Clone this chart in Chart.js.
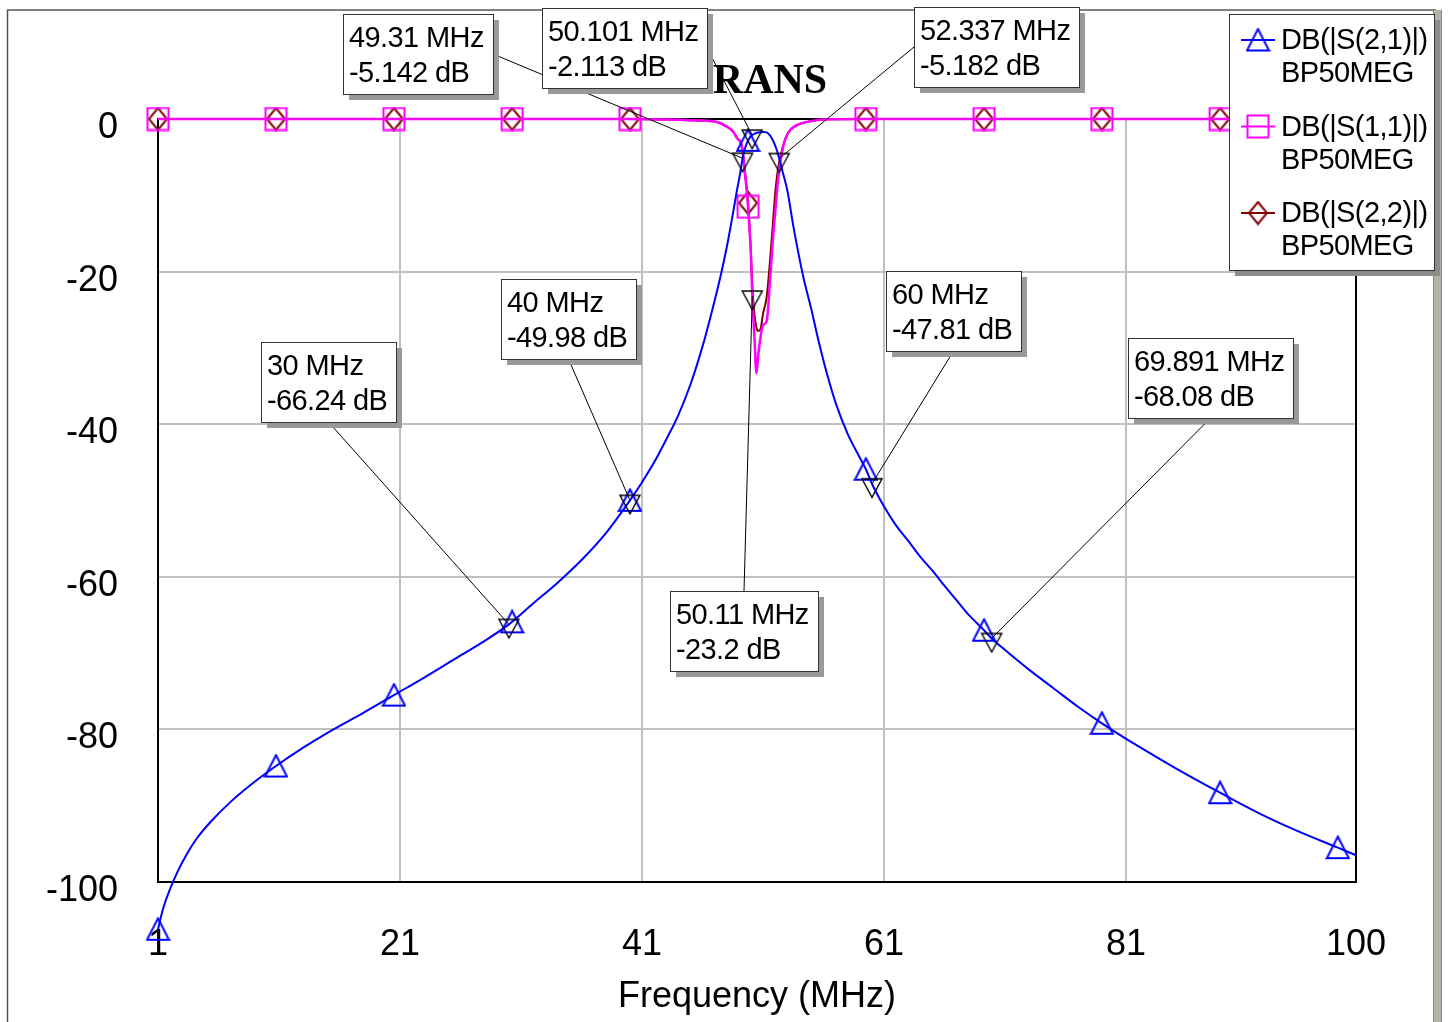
<!DOCTYPE html>
<html>
<head>
<meta charset="utf-8">
<title>TRANS</title>
<script src="https://cdn.jsdelivr.net/npm/chart.js@4/dist/chart.umd.min.js"></script>
<style>
  html, body { margin: 0; padding: 0; background: #fff; }
  #wrap { position: relative; width: 1450px; height: 1022px; }
  canvas { display: block; }
</style>
</head>
<body>
<div id="wrap"><canvas id="c" width="1450" height="1022"></canvas></div>
<script>
// ---- Sweep results: frequency in MHz, magnitude in dB ----
const s21Freq = [1, 1.4, 2, 2.6, 3.4, 4.2, 5.3, 7, 8.8, 10.75, 13, 15.5, 18, 20.5, 23, 25.5, 28, 30, 30.26, 32,
  34, 36, 38, 40, 41, 42, 43, 44, 45, 46, 46.6, 47, 47.5, 48, 48.5, 48.85, 49.1, 49.31, 49.5, 49.76,
  50.101, 50.5, 51, 51.3, 51.6, 51.8, 52.1, 52.337, 52.6, 53, 53.5, 54.3, 55, 55.5, 56.3, 57, 58, 59, 59.5, 60,
  61, 62, 63, 64, 65, 66, 67, 68, 69.26, 69.891, 71, 73, 75, 77, 79, 82, 85, 88.77, 92, 95, 98.5, 100];
const s21Db = [-106.2, -103.6, -100.9, -98.7, -96.3, -94.3, -92.2, -89.5, -87.1, -84.8, -82.4, -80, -77.8, -75.5, -73.2, -70.8, -68.4, -66.24, -65.9, -63.5,
  -60.8, -57.8, -54.3, -49.98, -47.6, -45, -42, -38.8, -34.8, -29.8, -26.3, -23.8, -20.5, -16.8, -12.5, -9.3, -7.2, -5.142, -3.9, -2.8,
  -2.113, -1.8, -1.7, -1.75, -2.2, -2.75, -3.9, -5.182, -6.8, -9.3, -14, -20.5, -25, -28.5, -33.5, -37.2, -41.3, -44.4, -45.9, -47.81,
  -50.8, -53.3, -55.3, -57.4, -59.2, -61.2, -63.1, -65, -67, -68.08, -69.6, -72.2, -74.6, -77, -79.2, -82.2, -85, -88.3, -91, -93.2, -95.5, -96.5];

// S(1,1) and S(2,2) share one frequency grid
const reflFreq = [1, 10.75, 20.5, 30.26, 40, 44, 46, 47.2, 48, 48.5, 48.85, 49.26, 49.5, 49.76, 50, 50.11, 50.3, 50.45, 50.6, 50.8,
  51, 51.3, 51.58, 51.8, 52, 52.24, 52.65, 53.07, 53.8, 54.9, 56, 59.5, 69.26, 79, 88.77, 98.5, 100];
const s11Db = [0, 0, 0, 0, 0, -0.1, -0.2, -0.4, -1.0, -1.6, -2.5, -3.7, -7.1, -11.5, -18, -23.2, -29, -33.3, -31, -28.5,
  -27, -26.5, -21, -16, -12.3, -8, -3.7, -1.8, -0.8, -0.3, -0.05, 0, 0, 0, 0, 0, 0];
const s22Db = [0, 0, 0, 0, 0, -0.1, -0.2, -0.4, -1.0, -1.6, -2.5, -3.6, -6.8, -11, -17.5, -21.8, -25.8, -27.3, -27.8, -27.5,
  -25.5, -23.3, -18.5, -14, -9.8, -6.5, -3.5, -1.8, -0.8, -0.3, -0.05, 0, 0, 0, 0, 0, 0];

// Sweep points that carry a trace symbol
const symbolFreq = [1, 10.75, 20.5, 30.26, 40, 49.76, 59.5, 69.26, 79, 88.77, 98.5];

// Cursor markers
const markerFreq = [49.31, 50.101, 52.337, 40, 30, 60, 69.891, 50.11];
const markerDb = [-5.142, -2.113, -5.182, -49.98, -66.24, -47.81, -68.08, -23.2];

const xTicks = [1, 21, 41, 61, 81, 100];
const yTicks = [0, -20, -40, -60, -80, -100];
const traceNames = ['DB(|S(2,1)|)', 'DB(|S(1,1)|)', 'DB(|S(2,2)|)'];
const circuitName = 'BP50MEG';
const graphTitle = 'TRANS';
const xTitle = 'Frequency (MHz)';

// ---- Marker label placement (box offset from the marker, leader anchor side) ----
const labelPlacement = [
  { dx: -400, dy: -144, anchor: 'right' },
  { dx: -210, dy: -127, anchor: 'right' },
  { dx: 135, dy: -152, anchor: 'left' },
  { dx: -129, dy: -221, anchor: 'bottom' },
  { dx: -248, dy: -282, anchor: 'bottom' },
  { dx: 14, dy: -213, anchor: 'bottom' },
  { dx: 136, dy: -300, anchor: 'bottom' },
  { dx: -82, dy: 295, anchor: 'top' }
];

const SANS = "'Liberation Sans', Arial, sans-serif";
const BLUE = '#0000ff', MAGENTA = '#ff00ff', DARKRED = '#800000';

// ---- Symbol glyphs ----
function glyph(w, h, draw) {
  const c = document.createElement('canvas');
  c.width = w; c.height = h;
  const g = c.getContext('2d');
  draw(g);
  return c;
}
const triUp = glyph(25, 25, g => {
  g.strokeStyle = BLUE; g.lineWidth = 2;
  g.beginPath(); g.moveTo(12.5, 1.5); g.lineTo(23.5, 23); g.lineTo(1.5, 23); g.closePath(); g.stroke();
});
const square = glyph(25, 25, g => {
  g.strokeStyle = MAGENTA; g.lineWidth = 2;
  g.strokeRect(2, 1.5, 21, 22);
});
const diamond = glyph(21, 25, g => {
  g.strokeStyle = DARKRED; g.lineWidth = 2;
  g.beginPath(); g.moveTo(10.5, 1.5); g.lineTo(19.5, 12.5); g.lineTo(10.5, 23.5); g.lineTo(1.5, 12.5); g.closePath(); g.stroke();
});
const triDown = glyph(24, 30, g => {
  g.strokeStyle = '#000'; g.lineWidth = 1.4;
  g.beginPath(); g.moveTo(2, 10); g.lineTo(22, 10); g.lineTo(12, 28.5); g.closePath(); g.stroke();
});

const pairs = (xs, ys) => xs.map((x, i) => ({ x, y: ys[i] }));
const symbolRadius = ctx => (ctx.raw && symbolFreq.includes(ctx.raw.x)) ? 60 : 0;

// ---- Decorations drawn around the plot ----
const decorations = {
  id: 'decorations',
  beforeDraw(chart) {
    const ctx = chart.ctx;
    ctx.save();
    ctx.fillStyle = '#fff';
    ctx.fillRect(0, 0, chart.width, chart.height);
    // outer frame
    ctx.strokeStyle = '#808080'; ctx.lineWidth = 2;
    ctx.beginPath(); ctx.moveTo(7, 10); ctx.lineTo(1436, 10); ctx.stroke();
    ctx.strokeStyle = '#505050'; ctx.lineWidth = 1.5;
    ctx.beginPath(); ctx.moveTo(7.5, 10); ctx.lineTo(7.5, 1022); ctx.stroke();
    ctx.fillStyle = '#b6b2a6';
    ctx.fillRect(1433, 10, 9, 1012);
    ctx.strokeStyle = '#8a877c'; ctx.lineWidth = 1;
    ctx.beginPath(); ctx.moveTo(1433.5, 10); ctx.lineTo(1433.5, 1022);
    ctx.moveTo(1441.5, 10); ctx.lineTo(1441.5, 1022); ctx.stroke();
    ctx.restore();
  },
  beforeDatasetsDraw(chart) {
    const { ctx, chartArea: a } = chart;
    ctx.save();
    ctx.strokeStyle = '#000'; ctx.lineWidth = 2;
    ctx.beginPath();
    ctx.moveTo(a.left, a.top); ctx.lineTo(a.right, a.top); ctx.lineTo(a.right, a.bottom);
    ctx.stroke();
    ctx.restore();
  },
  afterDatasetsDraw(chart) {
    const { ctx, chartArea: a, scales } = chart;
    ctx.save();
    // graph title
    ctx.fillStyle = '#000';
    ctx.font = "bold 42px 'Liberation Serif', 'Times New Roman', serif";
    ctx.textAlign = 'center'; ctx.textBaseline = 'alphabetic';
    ctx.fillText(graphTitle, (a.left + a.right) / 2 - 1, 93);

    // cursor labels
    ctx.font = '29px ' + SANS;
    ctx.letterSpacing = '-0.6px';
    ctx.textAlign = 'left'; ctx.textBaseline = 'middle';
    markerFreq.forEach((f, i) => {
      const px = scales.x.getPixelForValue(f);
      const py = scales.y.getPixelForValue(markerDb[i]);
      const p = labelPlacement[i];
      const l1 = f + ' MHz', l2 = markerDb[i] + ' dB';
      const w = Math.round(Math.max(ctx.measureText(l1).width, ctx.measureText(l2).width) + 15);
      const h = 80;
      const bx = Math.round(px + p.dx), by = Math.round(py + p.dy);
      let ax, ay;
      if (p.anchor === 'right') { ax = bx + w; ay = by + h / 2; }
      else if (p.anchor === 'left') { ax = bx; ay = by + h / 2; }
      else if (p.anchor === 'top') { ax = bx + w / 2; ay = by; }
      else { ax = bx + w / 2; ay = by + h; }
      ctx.strokeStyle = '#000'; ctx.lineWidth = 1;
      ctx.beginPath(); ctx.moveTo(ax, ay); ctx.lineTo(px, py); ctx.stroke();
      // shadow, box, text
      ctx.fillStyle = '#999';
      ctx.fillRect(bx + 6, by + 6, w, h);
      ctx.fillStyle = '#fff';
      ctx.fillRect(bx, by, w, h);
      ctx.strokeStyle = '#333';
      ctx.strokeRect(bx + 0.5, by + 0.5, w, h);
      ctx.fillStyle = '#000';
      ctx.fillText(l1, bx + 6, by + 25);
      ctx.fillText(l2, bx + 6, by + 60);
    });

    // legend
    const lx = 1229, ly = 14, lw = 205, lh = 256;
    ctx.fillStyle = '#8c8c8c';
    ctx.fillRect(lx + 6, ly + 6, lw, lh);
    ctx.fillStyle = '#fff';
    ctx.fillRect(lx, ly, lw, lh);
    ctx.strokeStyle = '#333'; ctx.lineWidth = 1;
    ctx.strokeRect(lx + 0.5, ly + 0.5, lw, lh);
    const colors = [BLUE, MAGENTA, DARKRED];
    const glyphs = [triUp, square, diamond];
    traceNames.forEach((name, i) => {
      const y0 = 40 + i * 86.5;
      ctx.strokeStyle = colors[i]; ctx.lineWidth = 2;
      ctx.beginPath(); ctx.moveTo(1241, y0); ctx.lineTo(1275, y0); ctx.stroke();
      const gl = glyphs[i];
      ctx.drawImage(gl, 1258 - gl.width / 2, y0 - gl.height / 2);
      ctx.fillStyle = '#000';
      ctx.fillText(name, 1281, y0 + 1);
      ctx.fillText(circuitName, 1281, y0 + 34);
    });
    ctx.restore();
  }
};

new Chart(document.getElementById('c'), {
  type: 'line',
  data: {
    datasets: [
      {
        label: 'cursors', data: pairs(markerFreq, markerDb), showLine: false,
        pointStyle: triDown, pointRadius: 60, clip: false, order: 0
      },
      {
        label: traceNames[0], data: pairs(s21Freq, s21Db),
        borderColor: BLUE, borderWidth: 2, cubicInterpolationMode: 'monotone',
        pointStyle: triUp, pointRadius: symbolRadius, clip: false, order: 1
      },
      {
        label: traceNames[1], data: pairs(reflFreq, s11Db),
        borderColor: MAGENTA, borderWidth: 2.5, cubicInterpolationMode: 'monotone',
        pointStyle: square, pointRadius: symbolRadius, clip: false, order: 2
      },
      {
        label: traceNames[2], data: pairs(reflFreq, s22Db),
        borderColor: DARKRED, borderWidth: 2, cubicInterpolationMode: 'monotone',
        pointStyle: diamond, pointRadius: symbolRadius, clip: false, order: 3
      }
    ]
  },
  options: {
    responsive: false,
    animation: false,
    devicePixelRatio: 1,
    events: [],
    layout: { padding: { top: 119, right: 94, left: 0, bottom: 0 } },
    plugins: { legend: { display: false }, tooltip: { enabled: false }, title: { display: false } },
    scales: {
      x: {
        type: 'linear', min: 1, max: 100,
        afterBuildTicks: s => { s.ticks = xTicks.map(v => ({ value: v })); },
        afterFit: s => { s.height = 140; },
        grid: { color: '#c0c0c0', lineWidth: 2, drawTicks: false },
        border: { color: '#000', width: 2 },
        ticks: {
          padding: 41, color: '#000', autoSkip: false, maxRotation: 0,
          font: { family: SANS, size: 36 }, callback: v => String(v)
        },
        title: {
          display: true, text: xTitle, color: '#000',
          font: { family: SANS, size: 36 }, padding: { top: 0, bottom: 3 }
        }
      },
      y: {
        type: 'linear', min: -100, max: 0,
        afterBuildTicks: s => { s.ticks = yTicks.map(v => ({ value: v })); },
        afterFit: s => { s.width = 158; },
        grid: { color: '#c0c0c0', lineWidth: 2, drawTicks: false },
        border: { color: '#000', width: 2 },
        ticks: {
          padding: 40, labelOffset: 9, color: '#000',
          font: { family: SANS, size: 36 }, callback: v => String(v)
        }
      }
    }
  },
  plugins: [decorations]
});
</script>
</body>
</html>
